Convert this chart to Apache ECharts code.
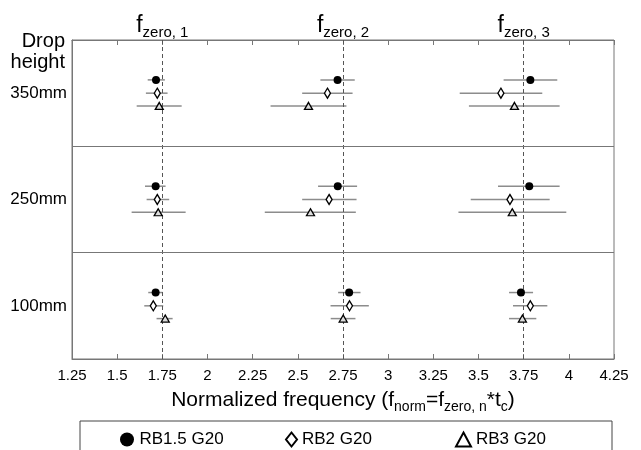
<!DOCTYPE html>
<html>
<head>
<meta charset="utf-8">
<script src="https://cdn.jsdelivr.net/npm/echarts@6/dist/echarts.min.js"></script>
<style>
html,body{margin:0;padding:0;background:#fff;}
#chart{width:641px;height:450px;}
</style>
</head>
<body>
<div id="chart"></div>
<script>
// Drop heights, bottom to top
const heights = ['100mm', '250mm', '350mm'];
// Natural-frequency mode labels and reference normalized frequencies
const modeLabels = ['zero, 1', 'zero, 2', 'zero, 3'];
const modeRefs = [1.75, 2.75, 3.75];
// X tick labels
const xTicks = [1.25, 1.5, 1.75, 2, 2.25, 2.5, 2.75, 3, 3.25, 3.5, 3.75, 4, 4.25];
const seriesNames = ['RB1.5 G20', 'RB2 G20', 'RB3 G20'];

// Per series: rows = heights (100mm, 250mm, 350mm), columns = modes (1, 2, 3)
const rb15Mean = [[1.713, 2.784, 3.735], [1.713, 2.721, 3.781], [1.715, 2.720, 3.787]];
const rb15Low  = [[1.672, 2.723, 3.669], [1.654, 2.612, 3.608], [1.669, 2.625, 3.639]];
const rb15High = [[1.752, 2.847, 3.802], [1.768, 2.828, 3.949], [1.764, 2.815, 3.936]];

const rb2Mean = [[1.700, 2.786, 3.787], [1.722, 2.673, 3.674], [1.722, 2.664, 3.624]];
const rb2Low  = [[1.650, 2.681, 3.691], [1.663, 2.524, 3.457], [1.659, 2.524, 3.396]];
const rb2High = [[1.755, 2.893, 3.881], [1.788, 2.825, 3.894], [1.779, 2.803, 3.853]];

const rb3Mean = [[1.766, 2.751, 3.743], [1.727, 2.570, 3.687], [1.733, 2.559, 3.699]];
const rb3Low  = [[1.718, 2.682, 3.669], [1.580, 2.317, 3.389], [1.608, 2.349, 3.447]];
const rb3High = [[1.807, 2.819, 3.820], [1.879, 2.821, 3.986], [1.857, 2.769, 3.949]];

const means = [rb15Mean, rb2Mean, rb3Mean];
const lows = [rb15Low, rb2Low, rb3Low];
const highs = [rb15High, rb2High, rb3High];

// vertical dodge of each series inside its height band
const dodge = [0.125, 0, -0.12];

function pointData(s) {
  const out = [];
  heights.forEach((h, hi) => {
    modeRefs.forEach((m, mi) => {
      out.push([means[s][hi][mi], hi + 0.5 + dodge[s]]);
    });
  });
  return out;
}
function barData(s) {
  const out = [];
  heights.forEach((h, hi) => {
    modeRefs.forEach((m, mi) => {
      out.push([lows[s][hi][mi], highs[s][hi][mi], hi + 0.5 + dodge[s]]);
    });
  });
  return out;
}

const FONT = 'Liberation Sans, Arial, sans-serif';
const symbolStyles = [
  { symbol: 'circle', symbolSize: 8, itemStyle: { color: '#000', borderColor: '#000', borderWidth: 0, opacity: 1 } },
  { symbol: 'diamond', symbolSize: [6, 10], itemStyle: { color: '#fff', borderColor: '#000', borderWidth: 1.4, opacity: 1 } },
  { symbol: 'triangle', symbolSize: [8, 7], itemStyle: { color: '#ddd', borderColor: '#000', borderWidth: 1.3, opacity: 1 } }
];

const series = [];
// error bars
for (let s = 0; s < 3; s++) {
  series.push({
    type: 'custom',
    xAxisIndex: 0, yAxisIndex: 1,
    z: 2,
    silent: true,
    data: barData(s),
    renderItem: function (params, api) {
      const p1 = api.coord([api.value(0), api.value(2)]);
      const p2 = api.coord([api.value(1), api.value(2)]);
      return {
        type: 'line',
        shape: { x1: p1[0], y1: p1[1], x2: p2[0], y2: p2[1] },
        style: { stroke: '#8c8c8c', lineWidth: 1.5 }
      };
    }
  });
}
// points
for (let s = 0; s < 3; s++) {
  series.push(Object.assign({
    name: seriesNames[s],
    type: 'scatter',
    xAxisIndex: 0, yAxisIndex: 1,
    z: 5,
    data: pointData(s)
  }, symbolStyles[s]));
}
// reference dashed lines and band separators
series.push({
  type: 'line',
  xAxisIndex: 0, yAxisIndex: 1,
  data: [],
  silent: true,
  markLine: {
    silent: true,
    symbol: 'none',
    label: { show: false },
    data: modeRefs.map(v => ({ xAxis: v, lineStyle: { type: [4, 3], color: '#555', width: 1 } }))
      .concat([1, 2].map(v => ({ yAxis: v, lineStyle: { type: 'solid', color: '#777', width: 1.2 } })))
  }
});

const legendPos = [115, 280, 450];
const legends = seriesNames.map((n, i) => ({
  data: [{ name: n, icon: symbolStyles[i].symbol,
    itemStyle: i === 2 ? { color: '#fff', borderColor: '#000', borderWidth: 2 } : undefined }],
  left: legendPos[i],
  top: 426,
  itemWidth: i === 1 ? 11 : 15,
  itemHeight: 14,
  itemGap: 5,
  textStyle: { fontFamily: FONT, fontSize: 17, color: '#000' },
  selectedMode: false
}));

const option = {
  animation: false,
  backgroundColor: '#fff',
  grid: { left: 72, right: 27, top: 40, bottom: 91, show: true, borderColor: '#777', borderWidth: 1 },
  legend: legends,
  xAxis: [
    {
      type: 'value', position: 'bottom',
      min: xTicks[0], max: xTicks[xTicks.length - 1], interval: 0.25,
      axisLine: { lineStyle: { color: '#777' } },
      axisTick: { inside: true, length: 5, lineStyle: { color: '#777' } },
      splitLine: { show: false },
      axisLabel: { color: '#000', fontFamily: FONT, fontSize: 15, margin: 9,
        formatter: v => String(v) },
      name: '{a|Normalized frequency (f}{b|norm}{a|=f}{b|zero, n}{a|*t}{b|c}{a|)}',
      nameLocation: 'middle',
      nameGap: 27,
      nameTextStyle: {
        rich: {
          a: { fontFamily: FONT, fontSize: 21, color: '#000', lineHeight: 28, verticalAlign: 'middle' },
          b: { fontFamily: FONT, fontSize: 14, color: '#000', lineHeight: 13, verticalAlign: 'bottom' }
        }
      }
    },
    {
      type: 'value', position: 'top',
      min: xTicks[0], max: xTicks[xTicks.length - 1], interval: 0.25,
      axisLine: { lineStyle: { color: '#777' } },
      axisTick: { inside: true, length: 5, lineStyle: { color: '#777' } },
      splitLine: { show: false },
      axisLabel: {
        margin: 0,
        formatter: function (v) {
          const i = modeRefs.indexOf(v);
          return i >= 0 ? '{f|f}{s|' + modeLabels[i] + '}' : '';
        },
        rich: {
          f: { fontFamily: FONT, fontSize: 23, color: '#000', lineHeight: 28, verticalAlign: 'middle' },
          s: { fontFamily: FONT, fontSize: 15, color: '#000', lineHeight: 13, verticalAlign: 'bottom' }
        }
      }
    }
  ],
  yAxis: [
    {
      type: 'category', data: heights, boundaryGap: true,
      axisLine: { lineStyle: { color: '#777' } },
      axisTick: { alignWithLabel: true, length: 5, lineStyle: { color: '#777' } },
      axisLabel: { color: '#000', fontFamily: FONT, fontSize: 17, margin: 5 },
      name: 'Drop\nheight',
      nameLocation: 'end',
      nameGap: -12,
      nameTextStyle: { fontFamily: FONT, fontSize: 20, color: '#000', align: 'right', verticalAlign: 'middle', lineHeight: 21, padding: [0, 7, 0, 0] }
    },
    { type: 'value', min: 0, max: 3, show: false }
  ],
  graphic: [
    { type: 'rect', shape: { x: 80, y: 421, width: 532, height: 40 }, style: { fill: 'none', stroke: '#444', lineWidth: 1 } }
  ],
  series: series
};

const chart = echarts.init(document.getElementById('chart'), null, { renderer: 'canvas' });
chart.setOption(option);
</script>
</body>
</html>
